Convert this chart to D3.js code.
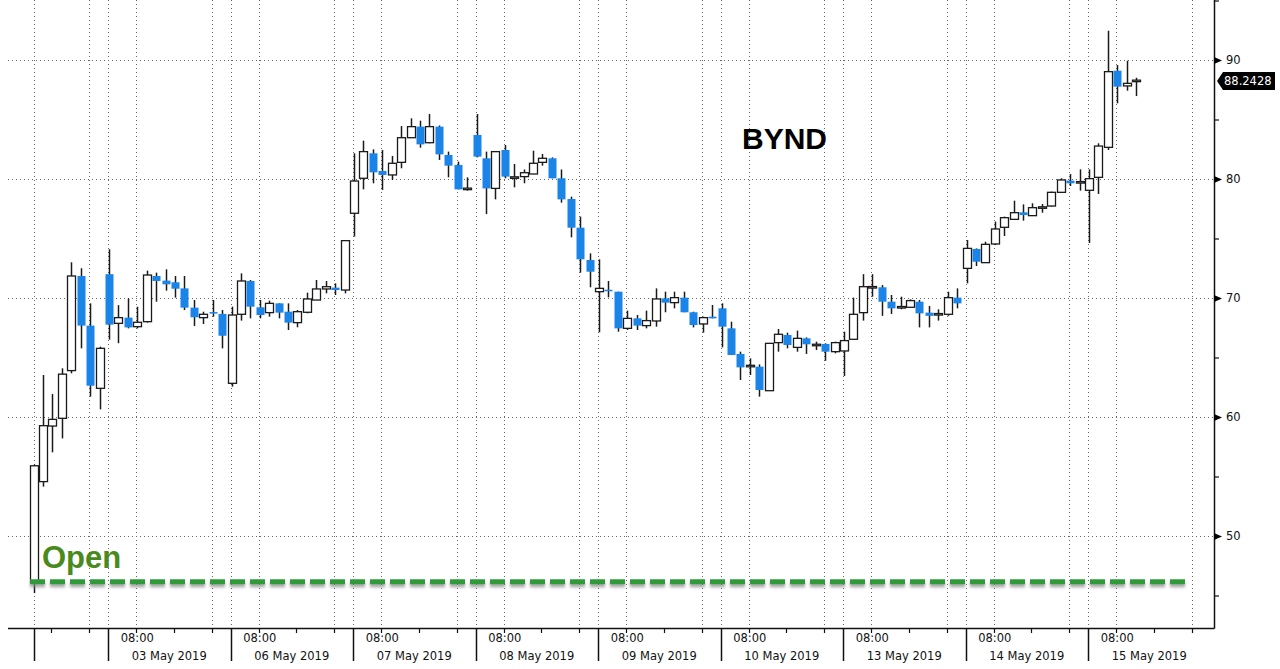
<!DOCTYPE html>
<html><head><meta charset="utf-8">
<script src="https://cdn.jsdelivr.net/npm/d3@7"></script>
<style>body{margin:0;background:#fff}svg{display:block}</style>
</head><body>
<svg id="c" width="1280" height="669"></svg>
<script>
// ---- data ----
const sessions = ["02 May 2019","03 May 2019","06 May 2019","07 May 2019","08 May 2019","09 May 2019","10 May 2019","13 May 2019","14 May 2019","15 May 2019"];
const slotsPerDay = 13;            // 30-minute bars, 09:30-16:00 ET
const firstDaySlot = 5;            // first bar of 02 May
const lastDaySlot = 5;             // last bar of 15 May
const timeTickLabels = ["08:00","10:00","12:00"];
const timeTickSlots = [3,7,11];
const opens  = [46.10,54.57,59.24,59.89,63.90,71.85,67.68,62.41,
 72.00,67.87,68.35,67.59,68.01,71.85,71.46,71.32,70.81,69.19,68.35,68.80,68.66,
 62.83,68.63,71.43,69.22,68.77,69.55,68.85,67.93,68.80,69.83,70.76,70.87,70.67,
 77.12,80.06,82.16,80.67,80.34,81.40,83.47,84.40,83.05,84.40,82.02,81.18,79.17,
 83.70,81.74,79.21,82.44,80.12,80.20,80.42,81.40,81.74,80.06,78.32,75.91,73.19,
 70.53,70.67,70.53,67.45,68.29,67.68,68.07,69.97,69.61,70.03,68.80,67.82,68.43,
 69.13,67.45,65.30,64.28,64.23,62.21,66.25,66.89,65.85,66.61,66.05,66.14,65.49,
 65.55,66.53,68.77,70.90,70.90,69.69,69.22,69.22,69.69,68.77,68.63,68.63,70.03,
 72.49,74.12,72.97,74.54,75.94,76.61,77.20,76.92,77.60,77.73,78.88,79.86,79.72,
 79.05,80.14,82.66,89.10,87.82,88.2428];
const highs  = [56.00,63.53,61.93,64.09,73.00,72.50,69.55,65.91,
 74.10,69.40,69.97,69.27,72.30,72.13,72.41,71.85,71.85,69.83,68.85,69.83,68.99,
 69.27,72.07,71.51,69.83,69.78,69.55,69.55,68.99,70.45,71.51,71.43,71.23,74.87,
 82.16,83.22,82.49,82.44,81.93,84.45,85.10,84.90,85.46,84.50,82.30,81.46,80.14,
 85.46,82.30,82.30,82.86,81.26,80.80,82.38,82.10,81.82,80.80,78.52,76.84,73.75,
 73.25,71.43,70.53,68.94,68.57,68.94,70.81,70.53,70.53,70.53,68.85,68.43,69.41,
 69.55,68.01,65.49,64.93,64.42,66.19,67.40,67.09,67.26,66.69,66.33,66.19,66.33,
 67.17,70.03,72.00,72.00,71.09,70.25,70.11,69.89,69.83,69.33,69.05,70.53,70.81,
 74.87,74.17,74.73,76.42,76.84,78.18,77.87,77.96,77.90,78.94,80.06,80.42,80.81,
 80.81,83.00,92.46,89.58,89.94,88.51];
const lows   = [45.20,54.15,57.03,58.20,63.67,65.77,61.71,60.64,
 66.50,66.20,67.45,67.45,67.93,69.69,70.62,70.03,68.99,67.65,67.82,68.43,65.77,
 62.55,68.10,68.29,68.29,68.43,68.29,67.31,67.54,68.71,69.83,70.39,70.25,70.39,
 75.16,79.13,79.64,79.08,79.92,80.90,83.47,82.63,83.00,81.60,80.14,79.13,79.02,
 81.82,77.06,78.29,80.06,79.30,79.64,80.42,81.12,80.06,78.01,75.10,72.13,70.90,
 67.12,70.06,67.17,67.31,67.31,67.45,67.59,68.80,69.13,68.80,67.53,67.09,68.29,
 65.85,65.21,63.11,63.53,61.71,62.21,65.49,65.77,65.49,65.30,65.63,64.73,65.35,
 63.45,66.53,68.10,70.11,68.50,68.66,69.05,69.22,67.53,67.53,68.10,68.50,69.13,
 71.23,72.69,72.97,74.45,75.21,76.55,76.50,76.89,77.17,77.68,78.85,79.41,79.02,
 74.62,78.74,82.44,86.36,87.42,86.97];
const closes = [55.90,59.27,59.80,63.60,71.85,67.68,62.63,65.77,
 67.76,68.35,67.53,67.96,71.93,71.43,71.15,70.78,69.19,68.38,68.63,68.71,66.83,
 68.57,71.43,69.27,68.57,69.55,68.77,67.93,68.85,69.92,70.76,70.95,70.67,74.82,
 79.83,82.30,80.56,80.34,81.32,83.47,84.40,82.91,84.40,82.07,81.12,79.13,79.17,
 81.88,79.21,82.30,80.20,80.12,80.53,81.32,81.74,80.06,78.29,75.91,73.25,72.21,
 70.81,70.59,67.45,68.29,67.68,68.10,69.92,69.61,70.03,68.80,67.73,68.35,68.29,
 67.59,65.21,64.17,64.28,62.27,66.19,66.95,66.05,66.61,66.11,66.05,65.49,66.25,
 66.42,68.63,70.95,70.90,69.69,69.13,69.22,69.78,68.71,68.50,68.63,70.03,69.55,
 74.17,73.05,74.51,75.80,76.75,77.17,76.97,77.59,77.60,78.88,79.92,79.64,79.72,
 80.03,82.77,89.02,87.76,88.04,88.2428];
const yTicks = [50,60,70,80,90];
const yMinorTicks = [45,55,65,75,85,95];
const openPrice = 46.15;
const lastPrice = 88.2428;
const title = "BYND";

// ---- build bars ----
const bars = [];
let k = 0;
sessions.forEach((s, d) => {
  const from = d === 0 ? firstDaySlot : 0;
  const to = d === sessions.length - 1 ? lastDaySlot : slotsPerDay - 1;
  for (let sl = from; sl <= to; sl++) {
    bars.push({day: d, slot: sl, o: opens[k], h: highs[k], l: lows[k], c: closes[k]});
    k++;
  }
});

// ---- scales ----
const plotLeft = 8, plotRight = 1214, axisY = 628;
const x = d3.scaleLinear().domain([0, 130]).range([-14.5, 1210.5]);
const y = d3.scaleLinear().domain([50, 90]).range([536, 60]);
const bx = b => Math.round(x(b.day * slotsPerDay + b.slot) + 1) + 0.5;

const svg = d3.select("#c");
const defs = svg.append("defs");
const f = defs.append("filter").attr("id","blur").attr("filterUnits","userSpaceOnUse")
  .attr("x",0).attr("y",0).attr("width",1280).attr("height",669);
f.append("feGaussianBlur").attr("stdDeviation",1.6);

const grid = svg.append("g").attr("stroke","#666").attr("stroke-width",1).attr("stroke-dasharray","1,3").attr("shape-rendering","crispEdges");
grid.selectAll("line.h").data(yTicks).join("line").attr("class","h")
  .attr("x1", plotLeft).attr("x2", plotRight).attr("y1", d => Math.round(y(d))+0.5).attr("y2", d => Math.round(y(d))+0.5);
const vgrid = [bx(bars[0]) - 0.5, x(11)];
for (let d = 1; d < sessions.length; d++) { vgrid.push(x(d*13), x(d*13+3), x(d*13+11)); }
grid.selectAll("line.v").data(vgrid).join("line").attr("class","v")
  .attr("x1", d => Math.round(d)+0.5).attr("x2", d => Math.round(d)+0.5).attr("y1", 0).attr("y2", axisY);

// candles
const cg = svg.append("g");
const cand = cg.selectAll("g").data(bars).join("g");
cand.append("line").attr("x1", bx).attr("x2", bx).attr("y1", b => y(b.h)).attr("y2", b => y(b.l))
  .attr("stroke","#1a1a1a").attr("stroke-width",1.5);
cand.append("rect")
  .attr("x", b => bx(b) - 4).attr("width", 8)
  .attr("y", b => {const t = y(Math.max(b.o,b.c)); const hgt = Math.abs(y(b.o)-y(b.c)); return hgt < 1.5 ? (y(b.o)+y(b.c))/2 - 0.75 : t;})
  .attr("height", b => Math.max(1.5, Math.abs(y(b.o)-y(b.c))))
  .attr("fill", b => b.c >= b.o ? "#ffffff" : "#1a84e8")
  .attr("stroke", b => b.c >= b.o ? "#1a1a1a" : "none")
  .attr("stroke-width", 1.3);

// open line (with soft shadow)
const oy = y(openPrice);
svg.append("line").attr("x1", 30).attr("x2", 1190).attr("y1", oy + 3).attr("y2", oy + 3)
  .attr("stroke","#888").attr("stroke-opacity",0.75).attr("stroke-width",5).attr("stroke-dasharray","15,5").attr("filter","url(#blur)");
svg.append("line").attr("x1", 30).attr("x2", 1190).attr("y1", oy).attr("y2", oy)
  .attr("stroke","#2f9a3a").attr("stroke-width",5).attr("stroke-dasharray","15,5");
svg.append("text").attr("x", 42).attr("y", oy - 14).text("Open")
  .attr("font-family","Liberation Sans, Arial, sans-serif").attr("font-weight","bold").attr("font-size",31).attr("fill","#4a8a1c");

// title
svg.append("text").attr("x", 742).attr("y", 149).text(title)
  .attr("font-family","Liberation Sans, Arial, sans-serif").attr("font-weight","bold").attr("font-size",30).attr("fill","#000");

// axes lines
svg.append("line").attr("x1", plotLeft).attr("x2", plotRight + 0.5).attr("y1", axisY + 0.5).attr("y2", axisY + 0.5).attr("stroke","#111").attr("stroke-width",1.5);
svg.append("line").attr("x1", plotRight + 0.5).attr("x2", plotRight + 0.5).attr("y1", 0).attr("y2", axisY + 0.5).attr("stroke","#111").attr("stroke-width",1.5);

// y axis
const fontAx = "DejaVu Sans, Verdana, sans-serif";
const yAxis = svg.append("g").attr("transform", `translate(${plotRight},0)`)
  .call(d3.axisRight(y).tickValues(yTicks).tickSize(0).tickPadding(12).tickFormat(d3.format("d")));
yAxis.select(".domain").remove();
yAxis.selectAll("text").attr("font-family", fontAx).attr("font-size", 11.5).attr("fill","#111");
yAxis.selectAll(".tick").append("path").attr("d","M0,-3.5L8,0L0,3.5Z").attr("fill","#000");
const yMinor = svg.append("g").attr("transform", `translate(${plotRight},0)`)
  .call(d3.axisRight(y).tickValues(yMinorTicks).tickSize(5).tickFormat(""));
yMinor.select(".domain").remove();
yMinor.selectAll("line").attr("stroke","#111").attr("stroke-width",1.2);

// x axis ticks and labels
const xg = svg.append("g").attr("font-family", fontAx).attr("font-size", 11.5).attr("fill","#111");
const shortTicks = [x(7), x(11)];
for (let d = 1; d < sessions.length; d++) timeTickSlots.forEach(s => shortTicks.push(x(d*13+s)));
xg.selectAll("line.s").data(shortTicks).join("line").attr("class","s")
  .attr("x1", d => Math.round(d)+0.5).attr("x2", d => Math.round(d)+0.5).attr("y1", axisY).attr("y2", axisY + 5)
  .attr("stroke","#111").attr("stroke-width",1.2);
const longTicks = [bx(bars[0]) - 1];
for (let d = 1; d < sessions.length; d++) longTicks.push(x(d*13));
xg.selectAll("line.l").data(longTicks).join("line").attr("class","l")
  .attr("x1", d => Math.round(d)+0.5).attr("x2", d => Math.round(d)+0.5).attr("y1", axisY).attr("y2", 661)
  .attr("stroke","#111").attr("stroke-width",1.5);
const days = d3.range(1, sessions.length);
xg.selectAll("text.t").data(days).join("text").attr("class","t")
  .attr("x", d => x(d*13 + timeTickSlots[0]) + 1).attr("y", 642).attr("text-anchor","middle").text(timeTickLabels[0]);
xg.selectAll("text.d").data(days).join("text").attr("class","d")
  .attr("x", d => x(d*13 + 6.5)).attr("y", 660).attr("text-anchor","middle").text(d => sessions[d]);

// last price tag
const ly = y(lastPrice);
svg.append("path").attr("d", `M${plotRight+3},${ly} L${plotRight+9},${ly-9} L1275,${ly-9} L1275,${ly+9} L${plotRight+9},${ly+9} Z`).attr("fill","#000");
svg.append("text").attr("x", plotRight + 10).attr("y", ly + 4.5).text(d3.format(".4f")(lastPrice))
  .attr("font-family", fontAx).attr("font-size", 11.5).attr("fill","#fff");
</script>
</body></html>
